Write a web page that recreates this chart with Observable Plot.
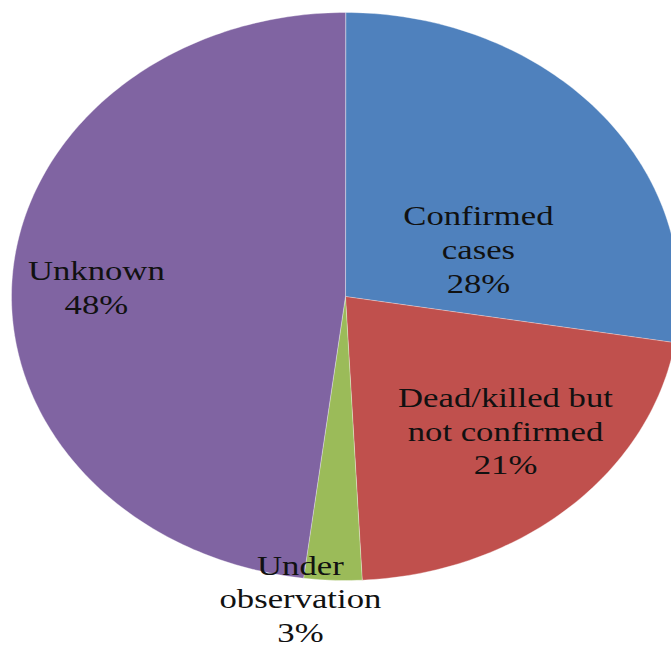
<!DOCTYPE html>
<html>
<head>
<meta charset="utf-8">
<script src="https://cdn.jsdelivr.net/npm/d3@7"></script>
<script src="https://cdn.jsdelivr.net/npm/@observablehq/plot@0.6"></script>
<style>
  html, body { margin: 0; padding: 0; background: #fff; }
  #chart { width: 671px; height: 648px; overflow: hidden; }
  #chart svg text { font-family: "Liberation Serif", "Times New Roman", Times, serif !important; }
</style>
</head>
<body>
<div id="chart"></div>
<script>
// ---- Data ----
const categories = ["Confirmed cases", "Dead/killed but not confirmed", "Under observation", "Unknown"];
const categoryLines = [["Confirmed", "cases"], ["Dead/killed but", "not confirmed"], ["Under", "observation"], ["Unknown"]];
const values = [27.6, 21.6, 2.8, 48.0];
const percentLabels = ["28%", "21%", "3%", "48%"];
const colors = ["#4F81BD", "#C0504D", "#9BBB59", "#8064A2"];

// ---- Layout (label anchor positions in unit pie coordinates) ----
const labelPos = [[0.398, 0.17], [0.479, -0.47], [-0.135, -1.06], [-0.746, 0.036]];

// ---- Build slice polygons from the data via d3.pie ----
const pie = d3.pie().sort(null).value(d => d.value).startAngle(0).endAngle(2 * Math.PI);
const arcs = pie(categories.map((c, i) => ({cat: c, value: values[i]})));
const points = [];
for (const a of arcs) {
  points.push({cat: a.data.cat, x: 0, y: 0});
  const n = Math.max(2, Math.ceil((a.endAngle - a.startAngle) / (2 * Math.PI) * 360));
  for (let k = 0; k <= n; k++) {
    const t = a.startAngle + (a.endAngle - a.startAngle) * k / n;
    points.push({cat: a.data.cat, x: Math.sin(t), y: Math.cos(t)});
  }
}
const labels = categories.map((c, i) => ({
  cat: c,
  x: labelPos[i][0],
  y: labelPos[i][1],
  text: [...categoryLines[i], percentLabels[i]].join("\n")
}));

const chart = Plot.plot({
  width: 671,
  height: 648,
  margin: 0,
  style: {background: "white", overflow: "hidden"},
  x: {domain: [-1, 1], range: [11, 679], axis: null},
  y: {domain: [-1, 1], range: [580, 12], axis: null},
  color: {domain: categories, range: colors},
  marks: [
    Plot.line(points, {x: "x", y: "y", z: "cat", fill: "cat", stroke: "#ffffff", strokeOpacity: 0.45, strokeWidth: 0.8, curve: "linear-closed"}),
    Plot.text(labels, {x: "x", y: "y", text: "text", fontSize: 28, lineHeight: 1.2, fontFamily: "Liberation Serif", fill: "#111"})
  ]
});

// widen label glyphs horizontally like the stretched reference
chart.querySelectorAll('g[aria-label="text"] text').forEach(t => {
  const tr = t.getAttribute("transform") || "";
  t.setAttribute("transform", tr + " scale(1.24,1)");
});

document.getElementById("chart").appendChild(chart);
</script>
</body>
</html>
